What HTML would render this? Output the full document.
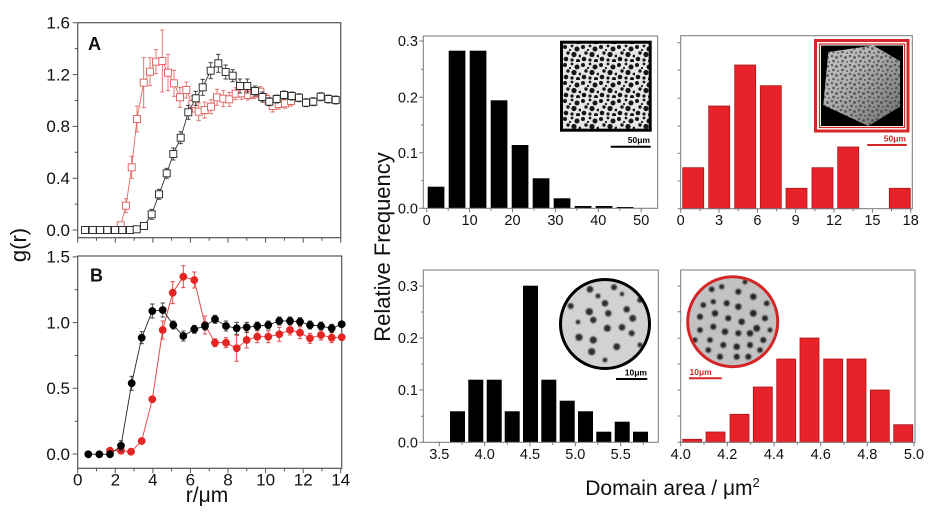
<!DOCTYPE html>
<html><head><meta charset="utf-8"><style>
html,body{margin:0;padding:0;background:#fff;}
svg{display:block;}
text{font-family:"Liberation Sans",Arial,sans-serif;}
</style></head><body>
<svg width="947" height="521" viewBox="0 0 947 521" xmlns="http://www.w3.org/2000/svg">
<defs>
<marker id="ck" markerUnits="userSpaceOnUse" markerWidth="5" markerHeight="2" refX="2.2" refY="1" orient="0" overflow="visible"><path d="M0 1H4.4" stroke="#333" stroke-width="0.9"/></marker>
<marker id="cr" markerUnits="userSpaceOnUse" markerWidth="5" markerHeight="2" refX="2.2" refY="1" orient="0" overflow="visible"><path d="M0 1H4.4" stroke="#e06a66" stroke-width="0.9"/></marker>
<marker id="cr2" markerUnits="userSpaceOnUse" markerWidth="5" markerHeight="2" refX="2.2" refY="1" orient="0" overflow="visible"><path d="M0 1H4.4" stroke="#e03a3a" stroke-width="0.9"/></marker>
<pattern id="d1" width="18" height="18" patternUnits="userSpaceOnUse" x="563" y="44">
<rect width="18" height="18" fill="#e6e6e6"/>
<g fill="#161616"><circle cx="2" cy="3" r="2"/><circle cx="9" cy="2" r="1.4"/><circle cx="14" cy="5" r="2.5"/><circle cx="5" cy="9" r="1.7"/><circle cx="11" cy="10.5" r="2.6"/><circle cx="17" cy="12" r="1.4"/><circle cx="3" cy="15" r="2.3"/><circle cx="9" cy="16" r="1.6"/><circle cx="15" cy="17" r="2"/><circle cx="7" cy="6" r="1.1"/></g>
</pattern>
<pattern id="d2" width="9" height="9" patternUnits="userSpaceOnUse" x="821" y="45">
<g fill="#3e3e3e" fill-opacity="0.7"><circle cx="2" cy="2" r="1.3"/><circle cx="6.5" cy="3.5" r="1.5"/><circle cx="3.5" cy="7" r="1.4"/><circle cx="8" cy="8" r="1"/></g>
</pattern>
<linearGradient id="hg" x1="0" y1="0" x2="1" y2="1"><stop offset="0" stop-color="#c4c4c4"/><stop offset="0.35" stop-color="#b4b4b4"/><stop offset="1" stop-color="#6e6e6e"/></linearGradient>
<filter id="bl" x="-20%" y="-20%" width="140%" height="140%"><feGaussianBlur stdDeviation="0.9"/></filter>
<clipPath id="c3"><circle cx="605" cy="324" r="44"/></clipPath>
<clipPath id="c4"><circle cx="732.7" cy="321.7" r="44.5"/></clipPath>
</defs>

<!-- ===== Panel A ===== -->
<rect x="77.7" y="22.7" width="263" height="215" fill="none" stroke="#555" stroke-width="1.2"/>
<g stroke="#555" stroke-width="1">
<path d="M72.7 230H77.7M72.7 178.2H77.7M72.7 126.4H77.7M72.7 74.6H77.7M72.7 22.7H77.7M74.7 204.1H77.7M74.7 152.3H77.7M74.7 100.5H77.7M74.7 48.6H77.7"/>
<path d="M77.7 237.7V242.7M115.3 237.7V242.7M152.9 237.7V242.7M190.4 237.7V242.7M228 237.7V242.7M265.6 237.7V242.7M303.2 237.7V242.7M340.7 237.7V242.7M96.5 237.7V240.7M134.1 237.7V240.7M171.6 237.7V240.7M209.2 237.7V240.7M246.8 237.7V240.7M284.4 237.7V240.7M321.9 237.7V240.7"/>
</g>
<g font-size="17" text-anchor="end" fill="#111">
<text x="70" y="236">0.0</text><text x="70" y="184">0.4</text><text x="70" y="132">0.8</text><text x="70" y="80.5">1.2</text><text x="70" y="28.5">1.6</text>
</g>
<text x="88" y="50" font-size="18" font-weight="bold" fill="#111">A</text>

<!-- red A -->
<polyline fill="none" stroke="#e06a66" stroke-width="0.9" points="85,230 91,230 97.3,230 103.3,230 109.7,230 115.7,230 120.7,225.3 126,205.7 131.7,167.3 137,119 143.7,82.7 150,71.7 156,61.7 162.3,61 168,72.7 174,83.3 180,97.3 186.3,90 192.3,104 198.7,111.7 204.7,110 211,106.7 217,97.3 223.3,98.7 229.3,99.3 235.7,93.7 241.7,93.3 248,95 254,93.7 260.3,91.7 266.3,99 272.7,106 278.7,104 285,103.3 291,101"/>
<path fill="none" stroke="#e06a66" stroke-width="0.9" marker-start="url(#cr)" marker-mid="url(#cr)" marker-end="url(#cr)" d="M120.7 222.3V228.3M126 198.7V212.7M131.7 156.3V178.3M137 106V132M143.7 57.7V107.7M150 57.7V85.7M156 49.7V73.7M162.3 30V92M168 54.7V90.7M174 70.3V96.3M180 87.3V107.3M186.3 82V98M192.3 96V112M198.7 102.7V120.7M204.7 102V118M211 99.7V113.7M217 89.3V105.3M223.3 90.7V106.7M229.3 92.3V106.3M235.7 87.7V99.7M241.7 87.3V99.3M248 90V100M254 88.7V98.7M260.3 86.7V96.7M266.3 94V104M272.7 100V112M278.7 99V109M285 98.3V108.3M291 96V106"/>
<g fill="#fff" stroke="#e06a66" stroke-width="1">
<rect x="81.5" y="226.5" width="7" height="7"/><rect x="87.5" y="226.5" width="7" height="7"/><rect x="93.8" y="226.5" width="7" height="7"/><rect x="99.8" y="226.5" width="7" height="7"/><rect x="106.2" y="226.5" width="7" height="7"/><rect x="112.2" y="226.5" width="7" height="7"/><rect x="117.2" y="221.8" width="7" height="7"/><rect x="122.5" y="202.2" width="7" height="7"/><rect x="128.2" y="163.8" width="7" height="7"/><rect x="133.5" y="115.5" width="7" height="7"/><rect x="140.2" y="79.2" width="7" height="7"/><rect x="146.5" y="68.2" width="7" height="7"/><rect x="152.5" y="58.2" width="7" height="7"/><rect x="158.8" y="57.5" width="7" height="7"/><rect x="164.5" y="69.2" width="7" height="7"/><rect x="170.5" y="79.8" width="7" height="7"/><rect x="176.5" y="93.8" width="7" height="7"/><rect x="182.8" y="86.5" width="7" height="7"/><rect x="188.8" y="100.5" width="7" height="7"/><rect x="195.2" y="108.2" width="7" height="7"/><rect x="201.2" y="106.5" width="7" height="7"/><rect x="207.5" y="103.2" width="7" height="7"/><rect x="213.5" y="93.8" width="7" height="7"/><rect x="219.8" y="95.2" width="7" height="7"/><rect x="225.8" y="95.8" width="7" height="7"/><rect x="232.2" y="90.2" width="7" height="7"/><rect x="238.2" y="89.8" width="7" height="7"/><rect x="244.5" y="91.5" width="7" height="7"/><rect x="250.5" y="90.2" width="7" height="7"/><rect x="256.8" y="88.2" width="7" height="7"/><rect x="262.8" y="95.5" width="7" height="7"/><rect x="269.2" y="102.5" width="7" height="7"/><rect x="275.2" y="100.5" width="7" height="7"/><rect x="281.5" y="99.8" width="7" height="7"/><rect x="287.5" y="97.5" width="7" height="7"/>
</g>
<!-- black A -->
<polyline fill="none" stroke="#333" stroke-width="0.9" points="85,230 92.7,230 100,230 107.3,230 115,230 122.3,230 130,230 136.7,229.3 144,226 151.7,214.3 159,194.3 166.7,173.3 173.3,154 180.7,137.7 188.3,112.3 195.7,98.3 202.7,87.3 210.7,70.7 218.3,63.3 225.7,72 232.7,75.7 240,86 247.3,86 255,91 262.3,97 269.3,101.7 276.7,99 284,95 291.7,96 299,97.7 306,102.7 313.3,101.7 320.7,96.7 328.3,99 335.7,100"/>
<path fill="none" stroke="#333" stroke-width="0.9" marker-start="url(#ck)" marker-mid="url(#ck)" marker-end="url(#ck)" d="M136.7 226.3V232.3M144 223V229M151.7 209.3V219.3M159 189.3V199.3M166.7 168.3V178.3M173.3 148V160M180.7 131.7V143.7M188.3 105.3V119.3M195.7 91.3V105.3M202.7 79.3V95.3M210.7 62.7V78.7M218.3 54.3V72.3M225.7 65V79M232.7 69.7V81.7M240 79V93M247.3 79V93M255 86V96M262.3 92V102M269.3 97.7V105.7M276.7 95V103M284 91V99M291.7 92V100M299 93.7V101.7M306 98.7V106.7M313.3 97.7V105.7M320.7 92.7V100.7M328.3 95V103M335.7 96V104"/>
<g fill="#fff" stroke="#333" stroke-width="1">
<rect x="81.5" y="226.5" width="7" height="7"/><rect x="89.2" y="226.5" width="7" height="7"/><rect x="96.5" y="226.5" width="7" height="7"/><rect x="103.8" y="226.5" width="7" height="7"/><rect x="111.5" y="226.5" width="7" height="7"/><rect x="118.8" y="226.5" width="7" height="7"/><rect x="126.5" y="226.5" width="7" height="7"/><rect x="133.2" y="225.8" width="7" height="7"/><rect x="140.5" y="222.5" width="7" height="7"/><rect x="148.2" y="210.8" width="7" height="7"/><rect x="155.5" y="190.8" width="7" height="7"/><rect x="163.2" y="169.8" width="7" height="7"/><rect x="169.8" y="150.5" width="7" height="7"/><rect x="177.2" y="134.2" width="7" height="7"/><rect x="184.8" y="108.8" width="7" height="7"/><rect x="192.2" y="94.8" width="7" height="7"/><rect x="199.2" y="83.8" width="7" height="7"/><rect x="207.2" y="67.2" width="7" height="7"/><rect x="214.8" y="59.8" width="7" height="7"/><rect x="222.2" y="68.5" width="7" height="7"/><rect x="229.2" y="72.2" width="7" height="7"/><rect x="236.5" y="82.5" width="7" height="7"/><rect x="243.8" y="82.5" width="7" height="7"/><rect x="251.5" y="87.5" width="7" height="7"/><rect x="258.8" y="93.5" width="7" height="7"/><rect x="265.8" y="98.2" width="7" height="7"/><rect x="273.2" y="95.5" width="7" height="7"/><rect x="280.5" y="91.5" width="7" height="7"/><rect x="288.2" y="92.5" width="7" height="7"/><rect x="295.5" y="94.2" width="7" height="7"/><rect x="302.5" y="99.2" width="7" height="7"/><rect x="309.8" y="98.2" width="7" height="7"/><rect x="317.2" y="93.2" width="7" height="7"/><rect x="324.8" y="95.5" width="7" height="7"/><rect x="332.2" y="96.5" width="7" height="7"/>
</g>

<!-- ===== Panel B ===== -->
<rect x="77.7" y="256" width="264" height="212.3" fill="none" stroke="#555" stroke-width="1.2"/>
<g stroke="#555" stroke-width="1">
<path d="M72.7 454H77.7M72.7 388.3H77.7M72.7 322.6H77.7M72.7 256.9H77.7M74.7 421.2H77.7M74.7 355.5H77.7M74.7 289.8H77.7"/>
<path d="M77.7 468.3V473.3M115.3 468.3V473.3M152.9 468.3V473.3M190.4 468.3V473.3M228 468.3V473.3M265.6 468.3V473.3M303.2 468.3V473.3M340.7 468.3V473.3M96.5 468.3V471.3M134.1 468.3V471.3M171.6 468.3V471.3M209.2 468.3V471.3M246.8 468.3V471.3M284.4 468.3V471.3M321.9 468.3V471.3"/>
</g>
<g font-size="17" text-anchor="end" fill="#111">
<text x="70" y="460">0.0</text><text x="70" y="394">0.5</text><text x="70" y="328.5">1.0</text><text x="70" y="262.5">1.5</text>
</g>
<g font-size="17" text-anchor="middle" fill="#111">
<text x="77.7" y="485.5">0</text><text x="115.3" y="485.5">2</text><text x="152.9" y="485.5">4</text><text x="190.4" y="485.5">6</text><text x="228" y="485.5">8</text><text x="265.6" y="485.5">10</text><text x="303.2" y="485.5">12</text><text x="340.7" y="485.5">14</text>
</g>
<text x="207" y="502" font-size="21" text-anchor="middle" fill="#111">r/μm</text>
<text x="90" y="281.5" font-size="18" font-weight="bold" fill="#111">B</text>
<text transform="translate(26,245) rotate(-90)" font-size="22" text-anchor="middle" fill="#111">g(r)</text>

<!-- red B -->
<polyline fill="none" stroke="#e03a3a" stroke-width="0.9" points="110,450.7 121,450.7 131,451.7 141.7,441 152.3,399.3 162.7,330 172.7,292.7 183.3,276.7 194.3,280 205,325 215,342.7 226,342.7 236.7,348.3 246.7,340 257.3,336.7 268.3,336.7 279.3,334.3 290,330 300,332.7 310,338.3 321,335 331.7,337.7 341.7,337.3"/>
<path fill="none" stroke="#e03a3a" stroke-width="0.9" marker-start="url(#cr2)" marker-mid="url(#cr2)" marker-end="url(#cr2)" d="M162.7 321V339M172.7 281.7V303.7M183.3 265.7V287.7M194.3 272V288M205 316V334M215 338.7V346.7M226 337.7V347.7M236.7 335.3V361.3M246.7 332V348M257.3 330.7V342.7M268.3 330.7V342.7M279.3 327.3V341.3M290 325V335M300 326.7V338.7M310 333.3V343.3M321 330V340M331.7 332.7V342.7"/>
<g fill="#e52424">
<circle cx="110" cy="450.7" r="3.9"/><circle cx="121" cy="450.7" r="3.9"/><circle cx="131" cy="451.7" r="3.9"/><circle cx="141.7" cy="441" r="3.9"/><circle cx="152.3" cy="399.3" r="3.9"/><circle cx="162.7" cy="330" r="3.9"/><circle cx="172.7" cy="292.7" r="3.9"/><circle cx="183.3" cy="276.7" r="3.9"/><circle cx="194.3" cy="280" r="3.9"/><circle cx="205" cy="325" r="3.9"/><circle cx="215" cy="342.7" r="3.9"/><circle cx="226" cy="342.7" r="3.9"/><circle cx="236.7" cy="348.3" r="3.9"/><circle cx="246.7" cy="340" r="3.9"/><circle cx="257.3" cy="336.7" r="3.9"/><circle cx="268.3" cy="336.7" r="3.9"/><circle cx="279.3" cy="334.3" r="3.9"/><circle cx="290" cy="330" r="3.9"/><circle cx="300" cy="332.7" r="3.9"/><circle cx="310" cy="338.3" r="3.9"/><circle cx="321" cy="335" r="3.9"/><circle cx="331.7" cy="337.7" r="3.9"/><circle cx="341.7" cy="337.3" r="3.9"/>
</g>
<!-- black B -->
<polyline fill="none" stroke="#222" stroke-width="0.9" points="88.3,454.3 99.3,454.3 110,454.3 121,445.7 131.7,383.3 141.7,337.7 152.3,311 162.7,310 173.3,325 183.3,336 194.3,329.3 205,326 215,319.3 226,326 236.7,328.3 246.7,327.3 257.3,326 268.3,325 279.3,321 290,321 300,321.7 310,325 321,326 331.7,328.3 341.7,324.3"/>
<path fill="none" stroke="#333" stroke-width="0.9" marker-start="url(#ck)" marker-mid="url(#ck)" marker-end="url(#ck)" d="M121 440.7V450.7M131.7 376.3V390.3M141.7 331.7V343.7M152.3 304V318M162.7 303V317M173.3 321V329M183.3 331V341M194.3 325.3V333.3M205 322V330M215 315.3V323.3M226 321V331M236.7 322.3V334.3M246.7 322.3V332.3M257.3 322V330M268.3 321V329M279.3 317V325M290 317V325M300 317.7V325.7M310 321V329M321 322V330M331.7 324.3V332.3"/>
<g fill="#000">
<circle cx="88.3" cy="454.3" r="3.9"/><circle cx="99.3" cy="454.3" r="3.9"/><circle cx="110" cy="454.3" r="3.9"/><circle cx="121" cy="445.7" r="3.9"/><circle cx="131.7" cy="383.3" r="3.9"/><circle cx="141.7" cy="337.7" r="3.9"/><circle cx="152.3" cy="311" r="3.9"/><circle cx="162.7" cy="310" r="3.9"/><circle cx="173.3" cy="325" r="3.9"/><circle cx="183.3" cy="336" r="3.9"/><circle cx="194.3" cy="329.3" r="3.9"/><circle cx="205" cy="326" r="3.9"/><circle cx="215" cy="319.3" r="3.9"/><circle cx="226" cy="326" r="3.9"/><circle cx="236.7" cy="328.3" r="3.9"/><circle cx="246.7" cy="327.3" r="3.9"/><circle cx="257.3" cy="326" r="3.9"/><circle cx="268.3" cy="325" r="3.9"/><circle cx="279.3" cy="321" r="3.9"/><circle cx="290" cy="321" r="3.9"/><circle cx="300" cy="321.7" r="3.9"/><circle cx="310" cy="325" r="3.9"/><circle cx="321" cy="326" r="3.9"/><circle cx="331.7" cy="328.3" r="3.9"/><circle cx="341.7" cy="324.3" r="3.9"/>
</g>

<!-- ===== Axis titles (right) ===== -->
<text transform="translate(390,247) rotate(-90)" font-size="22" text-anchor="middle" fill="#111">Relative Frequency</text>
<text x="672.5" y="495" font-size="21" text-anchor="middle" fill="#111">Domain area / μm<tspan font-size="13" dy="-8">2</tspan></text>

<!-- ===== Top-middle histogram ===== -->
<g fill="#000">
<rect x="427.7" y="186.7" width="16.7" height="21.6"/><rect x="448.7" y="50.7" width="16.7" height="157.6"/><rect x="469.7" y="50.7" width="16.7" height="157.6"/><rect x="490.7" y="100.3" width="16.7" height="108"/><rect x="511.7" y="145" width="16.7" height="63.3"/><rect x="532.7" y="178.3" width="16.7" height="30"/><rect x="553.7" y="198.3" width="16.7" height="10"/><rect x="574.7" y="206" width="16.7" height="2.3"/><rect x="595.7" y="206" width="16.7" height="2.3"/><rect x="616.7" y="207" width="16.7" height="1.3"/>
</g>
<rect x="423.3" y="36" width="234.4" height="172.3" fill="none" stroke="#777" stroke-width="1"/>
<g stroke="#777" stroke-width="1">
<path d="M419.3 208.3H423.3M419.3 152.7H423.3M419.3 97.3H423.3M419.3 41H423.3M421 180.5H423.3M421 125H423.3M421 69.2H423.3"/>
<path d="M426.7 208.3V212.3M469.6 208.3V212.3M512.5 208.3V212.3M555.4 208.3V212.3M598.3 208.3V212.3M641.2 208.3V212.3M448.2 208.3V210.8M491 208.3V210.8M534 208.3V210.8M576.9 208.3V210.8M619.8 208.3V210.8"/>
</g>
<g font-size="14.5" text-anchor="end" fill="#111">
<text x="418" y="213.5">0.0</text><text x="418" y="158">0.1</text><text x="418" y="102.5">0.2</text><text x="418" y="46">0.3</text>
</g>
<g font-size="14.5" text-anchor="middle" fill="#111">
<text x="426.7" y="225">0</text><text x="469.6" y="225">10</text><text x="512.5" y="225">20</text><text x="555.4" y="225">30</text><text x="598.3" y="225">40</text><text x="641.2" y="225">50</text>
</g>
<rect x="561.5" y="42.2" width="88.7" height="88" fill="url(#d1)" stroke="#000" stroke-width="3"/>
<path d="M610.7 146.7H650.7" stroke="#000" stroke-width="2"/>
<text x="650" y="143" font-size="8.5" font-weight="bold" text-anchor="end" fill="#000">50μm</text>

<!-- ===== Top-right histogram ===== -->
<g fill="#e8222a" stroke="#a81818" stroke-width="0.8">
<rect x="682.7" y="167.7" width="21" height="41"/><rect x="708.7" y="106" width="21" height="102.7"/><rect x="734.7" y="65" width="21" height="143.7"/><rect x="760.3" y="85.7" width="21" height="123"/><rect x="786" y="188.3" width="21" height="20.4"/><rect x="812" y="167.7" width="21" height="41"/><rect x="837.7" y="147" width="21" height="61.7"/><rect x="889.3" y="188.3" width="21" height="20.4"/>
</g>
<rect x="680.7" y="35.7" width="231.6" height="173" fill="none" stroke="#777" stroke-width="1"/>
<g stroke="#777" stroke-width="1">
<path d="M677.7 42.7H680.7M677.7 70H680.7M677.7 98.3H680.7M677.7 126H680.7M677.7 153.3H680.7M677.7 181H680.7M677.7 208.7H680.7"/>
<path d="M680.7 208.7V212.7M719 208.7V212.7M757.4 208.7V212.7M795.7 208.7V212.7M834 208.7V212.7M872.4 208.7V212.7M910.7 208.7V212.7M699.9 208.7V211.2M738.2 208.7V211.2M776.5 208.7V211.2M814.9 208.7V211.2M853.2 208.7V211.2M891.5 208.7V211.2"/>
</g>
<g font-size="14.5" text-anchor="middle" fill="#111">
<text x="680.7" y="225">0</text><text x="719" y="225">3</text><text x="757.4" y="225">6</text><text x="795.7" y="225">9</text><text x="834" y="225">12</text><text x="872.4" y="225">15</text><text x="910.7" y="225">18</text>
</g>
<rect x="815.5" y="40.5" width="92.5" height="90.5" fill="#fff" stroke="#d42626" stroke-width="3"/>
<rect x="819.5" y="44" width="85" height="83.5" fill="none" stroke="#d42626" stroke-width="1.2"/>
<rect x="821" y="45.5" width="82" height="80.5" fill="#000"/>
<polygon points="828.3,52 873.3,45.5 900,61 900,106.7 868.3,126 823.3,105" fill="url(#hg)"/>
<polygon points="828.3,52 873.3,45.5 900,61 900,106.7 868.3,126 823.3,105" fill="url(#d2)"/>
<path d="M867.3 145H906.7" stroke="#d42626" stroke-width="2"/>
<text x="906" y="141.5" font-size="8.5" font-weight="bold" text-anchor="end" fill="#d42626">50μm</text>

<!-- ===== Bottom-middle histogram ===== -->
<g fill="#000">
<rect x="450" y="411.3" width="15" height="31"/><rect x="468.3" y="379.7" width="15" height="62.6"/><rect x="486.7" y="379.7" width="15" height="62.6"/><rect x="504.7" y="411.3" width="15" height="31"/><rect x="523" y="285.7" width="15" height="156.6"/><rect x="541.3" y="379.7" width="15" height="62.6"/><rect x="559.7" y="400.7" width="15" height="41.6"/><rect x="578" y="411.3" width="15" height="31"/><rect x="596.3" y="431.7" width="15" height="10.6"/><rect x="614.7" y="421.7" width="15" height="20.6"/><rect x="633" y="431.7" width="15" height="10.6"/>
</g>
<rect x="423.3" y="270" width="235" height="172.3" fill="none" stroke="#777" stroke-width="1"/>
<g stroke="#777" stroke-width="1">
<path d="M419.3 442.3H423.3M419.3 390H423.3M419.3 338H423.3M419.3 286H423.3M421 416.2H423.3M421 364H423.3M421 312H423.3"/>
<path d="M439.3 442.3V446.3M484.7 442.3V446.3M530 442.3V446.3M575.3 442.3V446.3M620.7 442.3V446.3M462 442.3V444.8M507.3 442.3V444.8M552.7 442.3V444.8M598 442.3V444.8M643.3 442.3V444.8"/>
</g>
<g font-size="14.5" text-anchor="end" fill="#111">
<text x="418" y="447.5">0.0</text><text x="418" y="395">0.1</text><text x="418" y="343">0.2</text><text x="418" y="291">0.3</text>
</g>
<g font-size="14.5" text-anchor="middle" fill="#111">
<text x="439.3" y="459">3.5</text><text x="484.7" y="459">4.0</text><text x="530" y="459">4.5</text><text x="575.3" y="459">5.0</text><text x="620.7" y="459">5.5</text>
</g>
<circle cx="605" cy="324" r="44" fill="#d2d2d2"/>
<g clip-path="url(#c3)" fill="#2e2e2e" filter="url(#bl)">
<circle cx="590" cy="289.3" r="3.3"/><circle cx="614" cy="287.3" r="3"/><circle cx="605" cy="303.3" r="3.3"/><circle cx="589.3" cy="311.7" r="3.6"/><circle cx="608.3" cy="313.3" r="3.2"/><circle cx="626.7" cy="309.3" r="3.2"/><circle cx="632.7" cy="318.3" r="3.4"/><circle cx="570.7" cy="306" r="3"/><circle cx="593.3" cy="320" r="3.2"/><circle cx="607.3" cy="328.3" r="3.5"/><circle cx="622" cy="327.3" r="3.3"/><circle cx="631.7" cy="333.3" r="3"/><circle cx="579" cy="337.3" r="3.6"/><circle cx="593.3" cy="340" r="3.6"/><circle cx="616.7" cy="346.7" r="3.4"/><circle cx="591.7" cy="351.7" r="3.6"/><circle cx="640" cy="300" r="2.8"/><circle cx="598" cy="296" r="2.5"/><circle cx="578" cy="322" r="2.3"/><circle cx="640" cy="345" r="2.5"/><circle cx="605" cy="360" r="2.4"/><circle cx="622" cy="294" r="2.2"/>
</g>
<circle cx="605" cy="324" r="44.5" fill="none" stroke="#000" stroke-width="3"/>
<path d="M616 379H647.3" stroke="#000" stroke-width="2"/>
<text x="647" y="375.5" font-size="8.5" font-weight="bold" text-anchor="end" fill="#000">10μm</text>

<!-- ===== Bottom-right histogram ===== -->
<g fill="#e8222a" stroke="#a81818" stroke-width="0.8">
<rect x="682.7" y="439.3" width="19" height="3"/><rect x="706" y="432" width="19" height="10.3"/><rect x="730" y="414.3" width="19" height="28"/><rect x="753.3" y="387" width="19" height="55.3"/><rect x="776.7" y="359" width="19" height="83.3"/><rect x="800" y="338" width="19" height="104.3"/><rect x="823.7" y="359" width="19" height="83.3"/><rect x="847" y="359" width="19" height="83.3"/><rect x="870.3" y="390" width="19" height="52.3"/><rect x="893.7" y="424.7" width="19" height="17.6"/>
</g>
<rect x="680.7" y="270" width="234.3" height="172.3" fill="none" stroke="#777" stroke-width="1"/>
<g stroke="#777" stroke-width="1">
<path d="M677.7 286H680.7M677.7 311.7H680.7M677.7 338.3H680.7M677.7 364H680.7M677.7 390H680.7M677.7 416H680.7M677.7 442.3H680.7"/>
<path d="M680.7 442.3V446.3M727.3 442.3V446.3M774 442.3V446.3M820.7 442.3V446.3M867.3 442.3V446.3M914 442.3V446.3M704 442.3V444.8M750.7 442.3V444.8M797.3 442.3V444.8M844 442.3V444.8M890.7 442.3V444.8"/>
</g>
<g font-size="14.5" text-anchor="middle" fill="#111">
<text x="680.7" y="459">4.0</text><text x="727.3" y="459">4.2</text><text x="774" y="459">4.4</text><text x="820.7" y="459">4.6</text><text x="867.3" y="459">4.8</text><text x="914" y="459">5.0</text>
</g>
<circle cx="732.7" cy="321.7" r="44.5" fill="#c2c2c2"/>
<g clip-path="url(#c4)" fill="#262626" filter="url(#bl)">
<circle cx="711.7" cy="289.3" r="2.8"/><circle cx="721.7" cy="286.7" r="2.6"/><circle cx="738.3" cy="291.7" r="3"/><circle cx="753.3" cy="296.7" r="3.2"/><circle cx="703.3" cy="305" r="2.8"/><circle cx="713.3" cy="301.7" r="2.6"/><circle cx="726.7" cy="303.3" r="3"/><circle cx="738.3" cy="306.7" r="3.2"/><circle cx="753.3" cy="313.3" r="3.4"/><circle cx="765" cy="318.3" r="3"/><circle cx="700" cy="316.7" r="3"/><circle cx="715" cy="313.3" r="3.2"/><circle cx="728.3" cy="318.3" r="3"/><circle cx="741.7" cy="321.7" r="3.2"/><circle cx="756.7" cy="328.3" r="3.4"/><circle cx="700" cy="330" r="2.8"/><circle cx="713.3" cy="326.7" r="3"/><circle cx="725" cy="331.7" r="3.2"/><circle cx="738.3" cy="333.3" r="3"/><circle cx="750" cy="333.3" r="3.2"/><circle cx="763.3" cy="340" r="3"/><circle cx="710" cy="340" r="2.8"/><circle cx="723.3" cy="345" r="3"/><circle cx="736.7" cy="346.7" r="3.2"/><circle cx="750" cy="345" r="3"/><circle cx="708.3" cy="350" r="2.8"/><circle cx="720" cy="356.7" r="3"/><circle cx="736.7" cy="356.7" r="3"/><circle cx="748.3" cy="356.7" r="3"/><circle cx="760" cy="350" r="2.8"/><circle cx="766.7" cy="303.3" r="2.8"/><circle cx="695" cy="340" r="2.6"/><circle cx="745" cy="282" r="2.4"/><circle cx="770" cy="330" r="2.4"/>
</g>
<circle cx="732.7" cy="321.7" r="45" fill="none" stroke="#d42626" stroke-width="3"/>
<path d="M689 378.3H721.7" stroke="#d42626" stroke-width="2"/>
<text x="689.5" y="375" font-size="8.5" font-weight="bold" fill="#d42626">10μm</text>
</svg>
</body></html>
